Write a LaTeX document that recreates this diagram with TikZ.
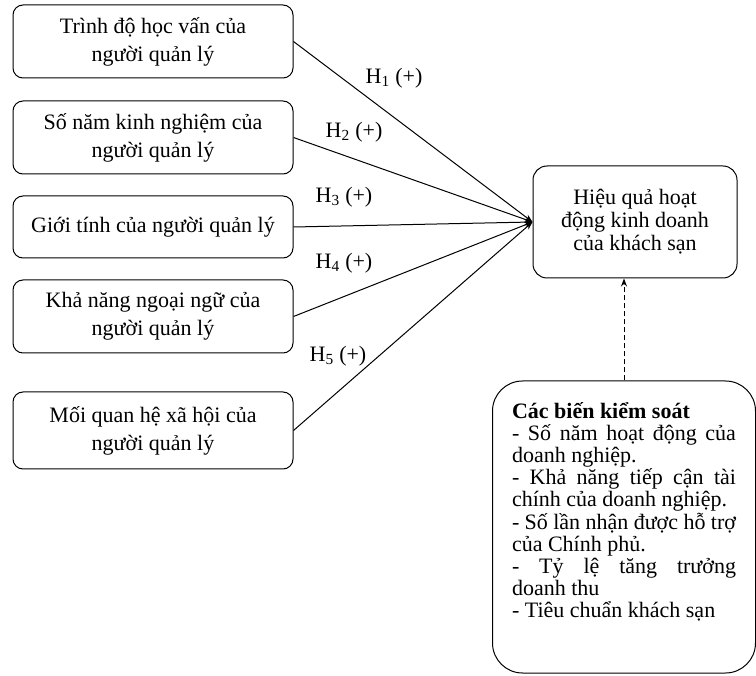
\documentclass[tikz,border=0pt]{standalone}
\usepackage{fontspec}
\setmainfont{Liberation Serif}
\usetikzlibrary{positioning, arrows.meta}

\begin{document}
\begin{tikzpicture}[
            x=1pt, y=-1pt,
            node distance=22pt,
            factor/.style={draw, line width=1pt, rounded corners=10pt, align=center, font=\fontsize{22}{28}\selectfont, minimum width=280pt, minimum height=73pt},
            outcome/.style={draw, line width=1pt, rounded corners=14pt, align=center, font=\fontsize{22}{23}\selectfont, minimum width=204pt, minimum height=112pt},
            controlbox/.style={draw, line width=1pt, rounded corners=30pt, align=justify, text width=224pt, font=\fontsize{22}{22.2}\selectfont, minimum width=263pt, minimum height=292pt},
            hyp/.style={font=\fontsize{22}{22}\selectfont, inner sep=1pt},
            arrow/.style={-{Stealth[length=8pt, width=6pt]}, line width=1pt}
        ]
            \useasboundingbox (0,0) rectangle (756,676);

            \node[factor] (educ) at (153,41.5) {Trình độ học vấn của\\người quản lý};
            \node[factor, below=of educ] (exper) {Số năm kinh nghiệm của\\người quản lý};
            \node[factor, below=21pt of exper, minimum height=62pt] (gender) {Giới tính của người quản lý};
            \node[factor, below=21pt of gender] (lang) {Khả năng ngoại ngữ của\\người quản lý};
            \node[factor, below=38pt of lang, minimum height=77pt] (social) {Mối quan hệ xã hội của\\người quản lý};

            \node[outcome] (perf) at (635,222) {Hiệu quả hoạt\\động kinh doanh\\của khách sạn};

            % extra depth on the last line lifts the text block like the original
            \node[controlbox] (ctrl) at (624,527) {\textbf{Các biến kiểm soát}\\
                - Số năm hoạt động của\linebreak doanh nghiệp.\\
                - Khả năng tiếp cận tài\linebreak chính của doanh nghiệp.\\
                - Số lần nhận được hỗ trợ\linebreak của Chính phủ.\\
                - Tỷ lệ tăng trưởng\linebreak doanh thu\\
                - Tiêu chuẩn khách sạn\rule[-34pt]{0pt}{34pt}};

            \draw [arrow] (educ.east) -- (perf.west);
            \draw [arrow] (exper.east) -- (perf.west);
            \draw [arrow] (gender.east) -- (perf.west);
            \draw [arrow] (lang.east) -- (perf.west);
            \draw [arrow] (social.east) -- (perf.west);
            \draw [arrow, dash pattern=on 5pt off 3pt] (ctrl.north) -- (ctrl.north |- perf.south);

            \node[hyp] (h1) at (394,78) {H\textsubscript{1} (+)};
            \node[hyp] (h2) at (354,132) {H\textsubscript{2} (+)};
            \node[hyp] (h3) at (344,197) {H\textsubscript{3} (+)};
            \node[hyp] (h4) at (344,263) {H\textsubscript{4} (+)};
            \node[hyp] (h5) at (338,356) {H\textsubscript{5} (+)};
        \end{tikzpicture}
\end{document}
